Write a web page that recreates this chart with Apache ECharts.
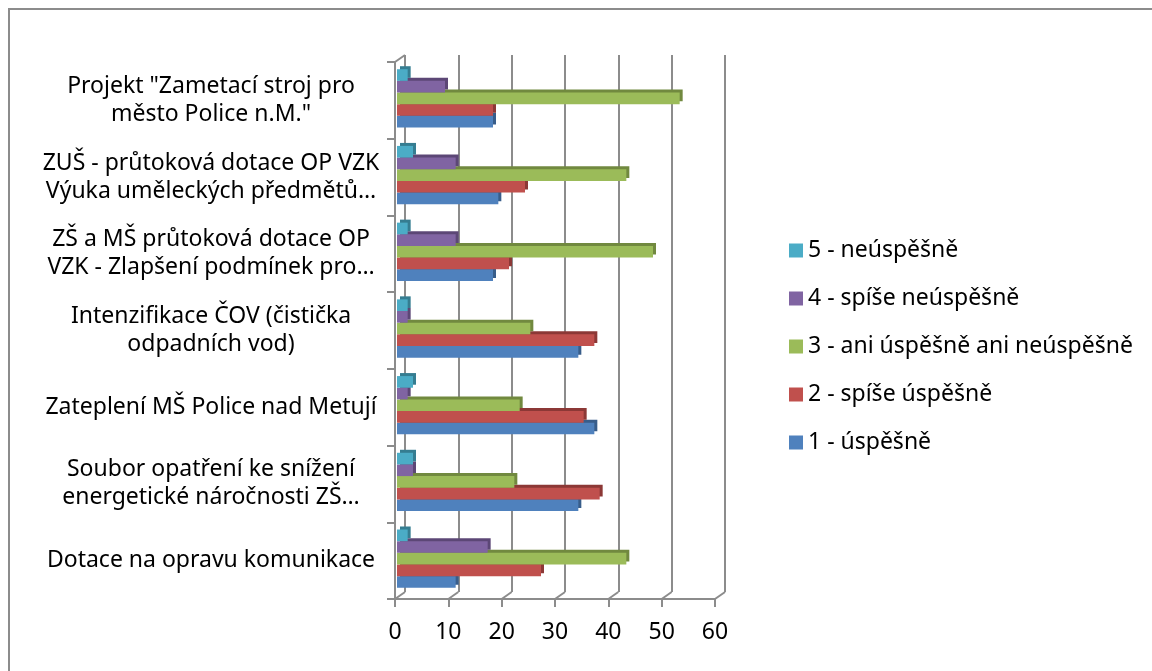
<!DOCTYPE html>
<html>
<head>
<meta charset="utf-8">
<script src="https://cdn.jsdelivr.net/npm/echarts@6/dist/echarts.min.js"></script>
<style>
  html, body { margin: 0; padding: 0; background: #fff; }
  #frame { position: absolute; left: 8px; top: 8px; width: 1150px; height: 670px;
           border-top: 2px solid #8c8c8c; border-left: 2px solid #8c8c8c; }
  #chart_container { position: absolute; left: 0; top: 0; width: 1152px; height: 671px; }
</style>
</head>
<body>
<div id="frame"></div>
<div id="chart_container"></div>
<script>
"use strict";

// categories bottom -> top (Excel order)
const projekty = [
    'Dotace na opravu komunikace',
    'Soubor opatření ke snížení\nenergetické náročnosti ZŠ…',
    'Zateplení MŠ Police nad Metují',
    'Intenzifikace ČOV (čistička\nodpadních vod)',
    'ZŠ a MŠ průtoková dotace OP\nVZK - Zlapšení podmínek pro…',
    'ZUŠ - průtoková dotace OP VZK\nVýuka uměleckých předmětů…',
    'Projekt "Zametací stroj pro\nměsto Police n.M."'
];

const serieNames = [
    '1 - úspěšně',
    '2 - spíše úspěšně',
    '3 - ani úspěšně ani neúspěšně',
    '4 - spíše neúspěšně',
    '5 - neúspěšně'
];

const uspesne       = [11, 34, 37, 34, 18, 19, 18];
const spiseUspesne  = [27, 38, 35, 37, 21, 24, 18];
const ani           = [43, 22, 23, 25, 48, 43, 53];
const spiseNeusp    = [17, 3, 2, 2, 11, 11, 9];
const neuspesne     = [2, 3, 3, 2, 2, 3, 2];

const xTicks = [0, 10, 20, 30, 40, 50, 60];

const barColors  = ['#4f81bd', '#c0504d', '#9bbb59', '#8064a2', '#4bacc6'];
const sideColors = ['#385d8a', '#8c3836', '#71893f', '#5c4776', '#357d91'];

const fontFam = '"Noto Sans", sans-serif';
const gridGray = '#8c8c8c';

let myChart;

// i = level index (0 = "1 - úspěšně" ... 4 = "5 - neúspěšně")
let makeBar = (name, vals, i) => ({
    name: name,
    type: 'bar',
    xAxisIndex: 2,
    yAxisIndex: 2,
    data: vals,
    barGap: '0%',
    barCategoryGap: '24%',
    z: 2 + i,   // upper bars on top so the "3D" faces of lower bars hide under them
    itemStyle: {
        color: barColors[i],
        shadowColor: sideColors[i],
        shadowBlur: 0,
        shadowOffsetX: 3,
        shadowOffsetY: -3
    },
    emphasis: { disabled: true }
});

// floor edges of the 3D box, one per x tick
let floorEdges = (params, api) => {
    let cs = params.coordSys;
    let v = api.value(0);
    let x = api.coord([v, 0])[0];
    let yb = cs.y + cs.height;
    let kids = [{
        type: 'line',
        shape: { x1: x, y1: yb, x2: x + 10, y2: yb - 7 },
        style: { stroke: gridGray, lineWidth: 2 }
    }];
    if (v === 0) {
        kids.push({
            type: 'line',
            shape: { x1: x, y1: cs.y, x2: x + 10, y2: cs.y - 7 },
            style: { stroke: gridGray, lineWidth: 2 }
        });
    }
    return { type: 'group', children: kids };
};

let pageLoaded = () => {
    let chartDom = document.getElementById('chart_container');
    myChart = echarts.init(chartDom, null, { renderer: 'canvas' });

    // in a horizontal bar chart the first series lands on top -> feed 5..1
    let series = [
        makeBar(serieNames[4], neuspesne, 4),
        makeBar(serieNames[3], spiseNeusp, 3),
        makeBar(serieNames[2], ani, 2),
        makeBar(serieNames[1], spiseUspesne, 1),
        makeBar(serieNames[0], uspesne, 0),
        {
            type: 'custom',
            xAxisIndex: 1,
            yAxisIndex: 1,
            renderItem: floorEdges,
            data: xTicks.map(t => [t]),
            silent: true,
            z: 1
        }
    ];

    let opt = {
        animation: false,
        textStyle: { fontFamily: fontFam },
        legend: {
            orient: 'vertical',
            left: 789,
            top: 239,
            padding: 0,
            itemWidth: 14,
            itemHeight: 14,
            itemGap: 25,
            icon: 'rect',
            data: serieNames.slice().reverse(),
            textStyle: { fontFamily: fontFam, fontSize: 23, lineHeight: 23, color: '#000' }
        },
        grid: [
            // back wall
            { left: 405, top: 55, width: 320, height: 537 },
            // front axes
            { left: 395, top: 62, width: 320, height: 537 },
            // bars (mid depth)
            { left: 397, top: 60, width: 320, height: 537 }
        ],
        xAxis: [
            {
                gridIndex: 0, type: 'value', min: 0, max: 60, interval: 10,
                axisLine: { show: false }, axisTick: { show: false }, axisLabel: { show: false },
                splitLine: { show: true, lineStyle: { color: gridGray, width: 2 } }
            },
            {
                gridIndex: 1, type: 'value', min: 0, max: 60, interval: 10,
                axisLine: { show: true, lineStyle: { color: gridGray, width: 2 } },
                axisTick: { show: true, length: 8, lineStyle: { color: gridGray, width: 2 } },
                axisLabel: { color: '#000', fontSize: 23, margin: 22, fontFamily: fontFam },
                splitLine: { show: false }
            },
            {
                gridIndex: 2, type: 'value', min: 0, max: 60, interval: 10, show: false,
                splitLine: { show: false }
            }
        ],
        yAxis: [
            {
                gridIndex: 0, type: 'category', data: projekty, show: false
            },
            {
                gridIndex: 1, type: 'category', data: projekty,
                axisLine: { show: true, lineStyle: { color: gridGray, width: 2 } },
                axisTick: { show: true, length: 8, lineStyle: { color: gridGray, width: 2 } },
                axisLabel: {
                    color: '#000', fontSize: 23, lineHeight: 28, fontFamily: fontFam,
                    align: 'center', margin: 184, padding: [8, 0, 0, 0]
                }
            },
            {
                gridIndex: 2, type: 'category', data: projekty, show: false
            }
        ],
        series: series
    };

    myChart.setOption(opt);
    console.log(`echart config and creation complete`);
};

window.addEventListener('load', pageLoaded, false);
</script>
</body>
</html>
